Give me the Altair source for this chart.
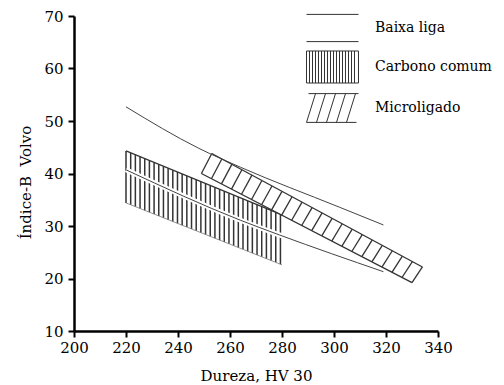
import altair as alt
import pandas as pd
import numpy as np

# ---------------- data ----------------
x_ticks = [200, 220, 240, 260, 280, 300, 320, 340]
y_ticks = [10, 20, 30, 40, 50, 60, 70]

legend_labels = ["Baixa liga", "Carbono comum", "Microligado"]

# Baixa liga: band bounded by two lines
baixa_up_x = [220, 248, 264, 302, 319]
baixa_up_y = [52.7, 44.8, 41.2, 33.6, 30.2]
baixa_lo_x = [220, 264, 279, 319]
baixa_lo_y = [40.7, 31.1, 28.3, 21.3]

# Carbono comum: vertically hatched band
carb_x = [220, 280]
carb_top = [44.3, 32.1]
carb_bot = [34.4, 22.6]

# Microligado: diagonally hatched band
micro_top_x = [253, 334]
micro_top = [43.8, 22.2]
micro_bot_x = [249, 330]
micro_bot = [40.0, 19.2]

# ---------------- styling helpers ----------------
FONT = "DejaVu Serif"
INK = "#333333"

xs = alt.Scale(domain=[200, 340], nice=False, zero=False)
ys = alt.Scale(domain=[10, 70], nice=False, zero=False)
xaxis = alt.Axis(values=x_ticks, title="Dureza, HV 30", grid=False, labelFlush=False,
                 tickSize=6, tickWidth=2, domainWidth=2.5, domainColor="black",
                 tickColor="black", labelFont=FONT, labelFontSize=15, labelColor="black",
                 labelPadding=3, titleFont=FONT, titleFontSize=15, titleFontWeight="normal",
                 titleColor="black", titleY=49, titleBaseline="alphabetic")
yaxis = alt.Axis(values=y_ticks, title="Índice-B\u00a0 Volvo", grid=False, labelFlush=False,
                 tickSize=6, tickWidth=2, domainWidth=2.5, domainColor="black",
                 tickColor="black", labelFont=FONT, labelFontSize=15, labelColor="black",
                 labelPadding=5, titleFont=FONT, titleFontSize=15, titleFontWeight="normal",
                 titleColor="black", titleX=-44, titleY=166, titleBaseline="alphabetic",
                 titleAngle=270)


def X(f):
    return alt.X(f, type="quantitative", scale=xs, axis=xaxis)


def Y(f):
    return alt.Y(f, type="quantitative", scale=ys, axis=yaxis)


# ---------------- derived drawing tables (hatching = decoration) ----------------
hx = np.arange(220, 280.01, 1.8)
carb_hatch = pd.DataFrame({
    "x": hx,
    "lo": np.interp(hx, carb_x, carb_bot),
    "hi": np.interp(hx, carb_x, carb_top),
})
carb_top_df = pd.DataFrame({"x": carb_x, "y": carb_top})
carb_bot_df = pd.DataFrame({"x": carb_x, "y": carb_bot})

mx = np.linspace(micro_bot_x[0], micro_bot_x[1], 22)
dx = micro_top_x[0] - micro_bot_x[0]
micro_hatch = pd.DataFrame({
    "x": mx,
    "y": np.interp(mx, micro_bot_x, micro_bot),
    "x2": mx + dx,
    "y2": np.interp(mx + dx, micro_top_x, micro_top),
})
fx = np.linspace(micro_top_x[0], micro_bot_x[1], 30)
micro_fill = pd.DataFrame({
    "x": fx,
    "lo": np.interp(fx, micro_bot_x, micro_bot),
    "hi": np.interp(fx, micro_top_x, micro_top),
})
micro_top_df = pd.DataFrame({"x": micro_top_x, "y": micro_top})
micro_bot_df = pd.DataFrame({"x": micro_bot_x, "y": micro_bot})

baixa_up_df = pd.DataFrame({"x": baixa_up_x, "y": baixa_up_y})
baixa_lo_df = pd.DataFrame({"x": baixa_lo_x, "y": baixa_lo_y})

# ---------------- layers ----------------
carb_rules = alt.Chart(carb_hatch).mark_rule(color=INK, strokeWidth=1.5).encode(
    x=X("x"), y=Y("lo"), y2="hi")
carb_top_line = alt.Chart(carb_top_df).mark_line(color=INK, strokeWidth=1.3).encode(
    x=X("x"), y=Y("y"))
carb_bot_line = alt.Chart(carb_bot_df).mark_line(color="#777777", strokeWidth=0.8).encode(
    x=X("x"), y=Y("y"))

baixa_lo_gap = alt.Chart(baixa_lo_df).mark_line(color="white", strokeWidth=5, interpolate="monotone").encode(
    x=X("x"), y=Y("y"))
baixa_lo_line = alt.Chart(baixa_lo_df).mark_line(color="#444444", strokeWidth=1, interpolate="monotone").encode(
    x=X("x"), y=Y("y"))

micro_white = alt.Chart(micro_fill).mark_area(color="white", opacity=1).encode(
    x=X("x"), y=Y("lo"), y2="hi")
micro_rules = alt.Chart(micro_hatch).mark_rule(color=INK, strokeWidth=1.3).encode(
    x=X("x"), y=Y("y"), x2="x2", y2="y2")
micro_top_line = alt.Chart(micro_top_df).mark_line(color=INK, strokeWidth=1.3).encode(
    x=X("x"), y=Y("y"))
micro_bot_line = alt.Chart(micro_bot_df).mark_line(color=INK, strokeWidth=1.3).encode(
    x=X("x"), y=Y("y"))

baixa_up_line = alt.Chart(baixa_up_df).mark_line(color="#444444", strokeWidth=1, interpolate="monotone").encode(
    x=X("x"), y=Y("y"))

# legend symbols as custom paths (unit = half symbol size = 18 px)
k = 20 / 18


def P(x, y):
    return "%.3f,%.3f" % (x * k, y * k)


p_baixa = "M%sL%sM%sL%s" % (P(-1.3, -0.68), P(1.3, -0.68), P(-1.3, 0.68), P(1.3, 0.68))
p_carb = "M%sL%sL%sL%sZ" % (P(-1.3, -0.8), P(1.3, -0.8), P(1.3, 0.8), P(-1.3, 0.8)) + "".join(
    "M%sL%s" % (P(v, -0.8), P(v, 0.8)) for v in np.arange(-1.15, 1.2, 0.15))
p_micro = "M%sL%sM%sL%s" % (P(-1.2, -0.72), P(1.3, -0.72), P(-1.3, 0.72), P(1.2, 0.72)) + "".join(
    "M%sL%s" % (P(v, 0.72), P(v + 0.45, -0.72)) for v in np.arange(-1.3, 0.9, 0.5))

leg_df = pd.DataFrame({"cat": legend_labels})
legend_layer = alt.Chart(leg_df).mark_point(
    clip=True, size=1296, color=INK, strokeWidth=1, filled=False, opacity=1
).encode(
    x=alt.value(-300), y=alt.value(-300),
    shape=alt.Shape("cat:N",
                    scale=alt.Scale(domain=legend_labels, range=[p_baixa, p_carb, p_micro]),
                    legend=alt.Legend(orient="none", legendX=240, legendY=-6.5, title=None,
                                      padding=0, rowPadding=4, labelOffset=24,
                                      labelFont=FONT, labelFontSize=14, labelColor="black",
                                      symbolSize=1296, symbolStrokeWidth=1,
                                      symbolStrokeColor=INK, symbolFillColor="transparent"))
)

chart = alt.layer(
    carb_rules, carb_bot_line, carb_top_line, baixa_lo_gap, baixa_lo_line,
    micro_white, micro_rules, micro_top_line, micro_bot_line, baixa_up_line,
    legend_layer,
).properties(
    width=364, height=315,
    autosize=alt.AutoSizeParams(type="none"),
    padding={"left": 74, "top": 16, "right": 66, "bottom": 54},
    background="white",
).configure_view(stroke=None)

chart.save("out.html", embed_options={"renderer": "svg", "actions": False})
